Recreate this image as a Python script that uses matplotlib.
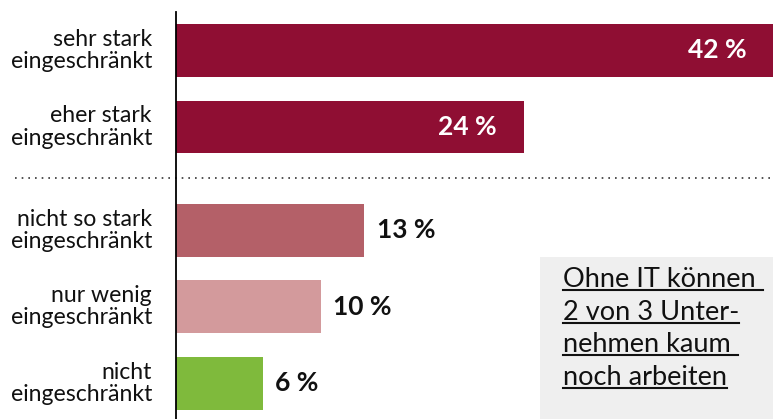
import matplotlib
matplotlib.use('Agg')
import matplotlib.pyplot as plt
from matplotlib.lines import Line2D

# Data
categories = ['sehr stark\neingeschränkt', 'eher stark\neingeschränkt',
              'nicht so stark\neingeschränkt', 'nur wenig\neingeschränkt',
              'nicht\neingeschränkt']
values = [42, 24, 13, 10, 6]
colors = ['#8f0e33', '#8f0e33', '#b46068', '#d39a9c', '#7fba3c']
note_lines = ['Ohne IT können ', '2 von 3 Unter-', 'nehmen kaum ', 'noch arbeiten']

plt.rcParams['font.family'] = ['Lato', 'DejaVu Sans']

W, H = 773, 419
fig = plt.figure(figsize=(W / 100, H / 100), dpi=100)
ax = fig.add_axes([176 / W, 0, 597 / W, 1])

# positions: gap between first two groups and the rest
gap = 0.35
pos = [i + (gap if i >= 2 else 0) for i in range(len(values))]

ax.barh(pos, values, height=0.69, color=colors, zorder=2)
ax.set_xlim(0, 41.2)
ax.set_ylim(4.817, -0.66)

for s in ['top', 'right', 'bottom']:
    ax.spines[s].set_visible(False)
ax.spines['left'].set_bounds(4.817, -0.5)
ax.spines['left'].set_linewidth(1.3)
ax.set_xticks([])
ax.set_yticks([])

for p, c in zip(pos, categories):
    ax.text(-24 / 597 * 41.2, p, c, ha='right', va='center', fontsize=16.6,
            linespacing=1.07, color='#111111')

for i, (p, v) in enumerate(zip(pos, values)):
    if i < 2:
        x = min(v, 41.2) - 1.85
        ax.text(x, p, f'{v} %', ha='right', va='center', fontsize=19,
                fontweight='bold', color='white')
    else:
        ax.text(v + 0.85, p, f'{v} %', ha='left', va='center', fontsize=19,
                fontweight='bold', color='#111111')

# dotted separator
sep_y = (pos[1] + pos[2]) / 2 - 0.01
ax.plot([-161 / 597, 1], [sep_y, sep_y], transform=ax.get_yaxis_transform(),
        linestyle=(0, (1, 3)), color='#333333', linewidth=1.2, clip_on=False)

# note box
fig.patches.append(plt.Rectangle((540 / W, 0), 233 / W, 162 / H,
                                 transform=fig.transFigure, facecolor='#efefef',
                                 edgecolor='none', zorder=0))
texts = []
for k, line in enumerate(note_lines):
    t = fig.text(563 / W, 1 - (287 + 32.6 * k) / H, line, fontsize=19.5,
                 ha='left', va='baseline', color='#111111')
    texts.append(t)
fig.canvas.draw()
r = fig.canvas.get_renderer()
for t in texts:
    bb = t.get_window_extent(r)
    y0 = (t.get_position()[1] * H - 3) / H
    fig.add_artist(Line2D([bb.x0 / W, bb.x1 / W], [y0, y0], color='#111111',
                          linewidth=1.5, transform=fig.transFigure))

fig.savefig('out.png', dpi=100)
